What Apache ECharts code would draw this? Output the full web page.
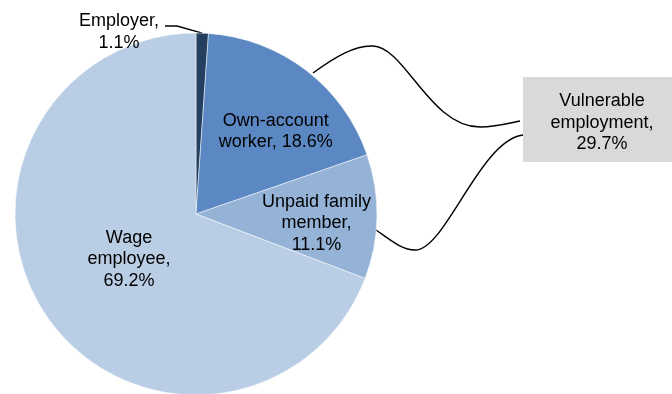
<!DOCTYPE html>
<html>
<head>
<meta charset="utf-8">
<script src="https://cdn.jsdelivr.net/npm/echarts@6/dist/echarts.min.js"></script>
<style>
html,body{margin:0;padding:0;background:#fff;}
#chart{width:672px;height:394px;}
</style>
</head>
<body>
<div id="chart"></div>
<script>
const categories = ['Employer', 'Own-account worker', 'Unpaid family member', 'Wage employee'];
const labelTexts = ['Employer,\n1.1%', 'Own-account\nworker, 18.6%', 'Unpaid family\nmember,\n11.1%', 'Wage\nemployee,\n69.2%'];
const shares = [1.1, 18.6, 11.1, 69.2];
const colors = ['#243F60', '#5B88C2', '#95B3D7', '#B9CDE5'];
const vulnerableText = 'Vulnerable\nemployment,\n29.7%';

const FONT = '"Liberation Sans", Arial, sans-serif';
const CX = 196, CY = 214, R = 181;
// label nudges relative to default inner position
const labelShift = [null, [23, -8], [27, 8], [10, -8]];

const total = shares.reduce((a, b) => a + b, 0);
function edgePoint(frac, rad) {
  const ang = frac * 2 * Math.PI;
  return [CX + rad * Math.sin(ang), CY - rad * Math.cos(ang)];
}
const empMid = edgePoint(shares[0] / 2 / total, R);

const chart = echarts.init(document.getElementById('chart'), null, {renderer: 'canvas'});
chart.setOption({
  animation: false,
  series: [{
    type: 'pie',
    center: [CX, CY],
    radius: [0, R],
    startAngle: 90,
    clockwise: true,
    avoidLabelOverlap: false,
    itemStyle: {borderColor: '#ffffff', borderWidth: 0.5},
    label: {
      show: true,
      position: 'inside',
      color: '#000',
      fontFamily: FONT,
      fontSize: 18,
      lineHeight: 21.5,
      formatter: p => labelTexts[p.dataIndex]
    },
    labelLine: {show: false},
    labelLayout: function (p) {
      if (p.dataIndex === 0) {
        return {x: 119, y: 32, align: 'center', verticalAlign: 'middle'};
      }
      const s = labelShift[p.dataIndex];
      return {dx: s[0], dy: s[1]};
    },
    data: categories.map((c, i) => ({
      name: c,
      value: shares[i],
      itemStyle: {color: colors[i]}
    }))
  }],
  graphic: [
    {type: 'polyline', shape: {points: [[165, 26], [177, 26], empMid]}, style: {stroke: '#000', lineWidth: 1.3, fill: null}},
    {type: 'bezierCurve', shape: {x1: 313, y1: 73, cpx1: 335, cpy1: 57, cpx2: 355, cpy2: 45, x2: 373, y2: 46}, style: {stroke: '#000', lineWidth: 1.4, fill: null}},
    {type: 'bezierCurve', shape: {x1: 373, y1: 46, cpx1: 405, cpy1: 47, cpx2: 430, cpy2: 127, x2: 480, y2: 127}, style: {stroke: '#000', lineWidth: 1.4, fill: null}},
    {type: 'bezierCurve', shape: {x1: 480, y1: 127, cpx1: 495, cpy1: 127, cpx2: 506, cpy2: 124, x2: 520, y2: 121}, style: {stroke: '#000', lineWidth: 1.4, fill: null}},
    {type: 'bezierCurve', shape: {x1: 376, y1: 230, cpx1: 392, cpy1: 241, cpx2: 402, cpy2: 250, x2: 415, y2: 250}, style: {stroke: '#000', lineWidth: 1.4, fill: null}},
    {type: 'bezierCurve', shape: {x1: 415, y1: 250, cpx1: 445, cpy1: 251, cpx2: 480, cpy2: 140, x2: 523, y2: 135}, style: {stroke: '#000', lineWidth: 1.4, fill: null}},
    {type: 'rect', shape: {x: 523, y: 77, width: 149, height: 85}, style: {fill: '#D9D9D9'}},
    {type: 'text', x: 602, y: 123, style: {text: vulnerableText, font: '18px ' + FONT, fill: '#000', textAlign: 'center', textVerticalAlign: 'middle', lineHeight: 21.5}}
  ]
});
</script>
</body>
</html>
